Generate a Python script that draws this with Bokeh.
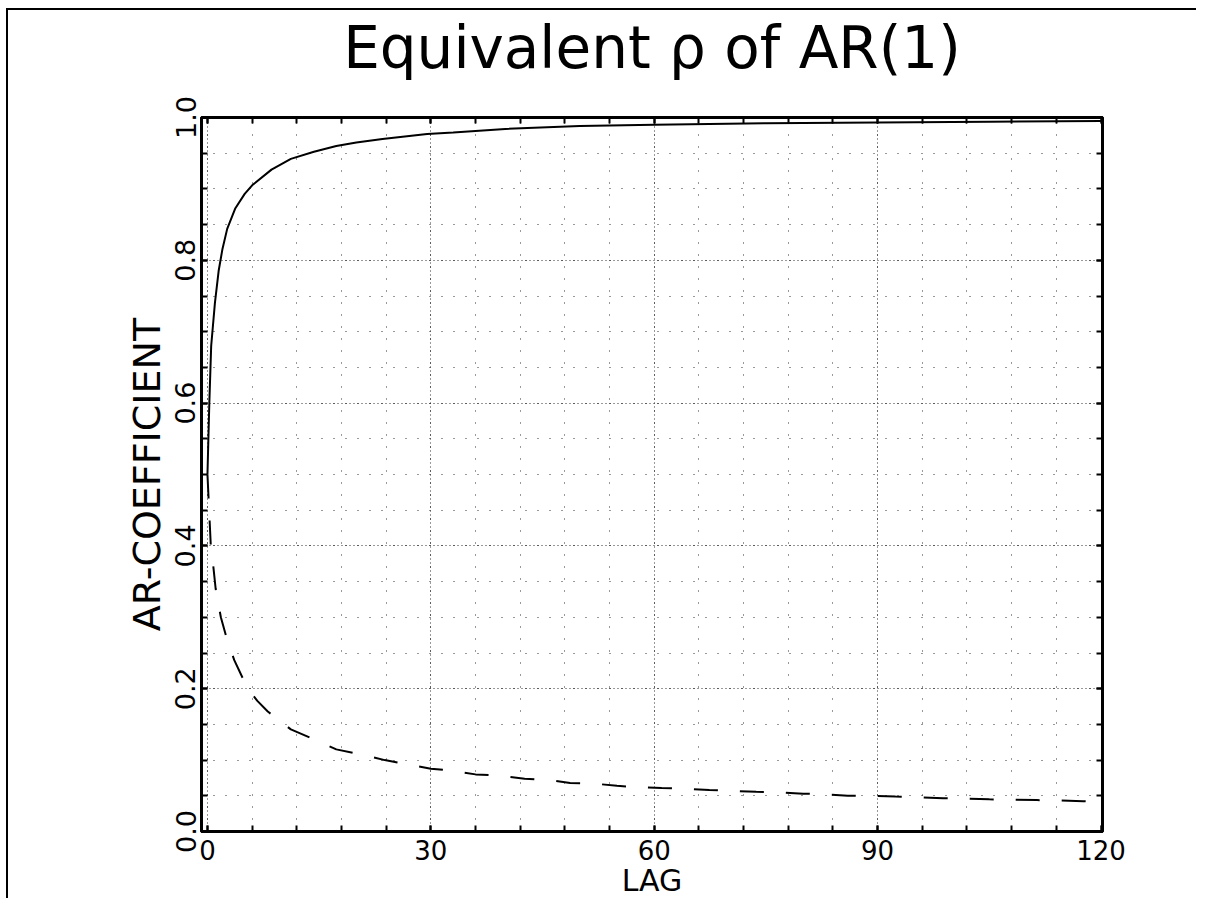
from bokeh.plotting import figure
from bokeh.models import Range1d, FixedTicker, LinearAxis, NumeralTickFormatter
from bokeh.embed import file_html
from bokeh.resources import INLINE

# --- data ---
lag_solid = [0, 0.25, 0.5, 1.0, 1.5, 2.0, 2.65, 3.75, 5.0, 6.0, 8.6, 11.2, 14.3,
             17.3, 20, 23.5, 29.5, 33, 40, 50, 60, 75, 90, 105, 120]
rho_solid = [0.50, 0.60, 0.68, 0.74, 0.785, 0.815, 0.844, 0.873, 0.893, 0.905,
             0.927, 0.942, 0.952, 0.960, 0.965, 0.970, 0.977, 0.979, 0.984,
             0.988, 0.990, 0.992, 0.993, 0.994, 0.995]

lag_dash = [0, 0.45, 0.8, 1.1, 1.8, 2.6, 3.6, 5.4, 6.7, 8.1, 11.2, 14.3, 17.3,
            20.6, 23.8, 26.8, 30, 33, 36, 39.5, 42.6, 45.8, 48.7, 52, 55, 58,
            61, 64.3, 67.4, 70.5, 73.7, 76.7, 80, 83, 86, 89.5, 92.4, 95.7,
            98.8, 102, 105, 108.4, 111.4, 114.5, 117.6, 120]
rho_dash = [0.50, 0.40, 0.37, 0.34, 0.30, 0.27, 0.24, 0.20, 0.183, 0.168, 0.143,
            0.129, 0.115, 0.108, 0.100, 0.094, 0.088, 0.085, 0.080, 0.078,
            0.074, 0.072, 0.068, 0.067, 0.064, 0.062, 0.061, 0.060, 0.058,
            0.057, 0.0555, 0.055, 0.053, 0.052, 0.050, 0.050, 0.049, 0.048,
            0.0465, 0.046, 0.045, 0.0445, 0.044, 0.0435, 0.0425, 0.042]

x_major = [0, 30, 60, 90, 120]
x_minor = list(range(0, 121, 6))
y_major = [0.0, 0.2, 0.4, 0.6, 0.8, 1.0]
y_minor = [round(i * 0.05, 2) for i in range(21)]

TITLE = "Equivalent \u03c1 of AR(1)"
FONT = "DejaVu Sans"

p = figure(width=1190, height=890, output_backend="svg", toolbar_location=None,
           x_range=Range1d(-0.8, 120.2), y_range=Range1d(0, 1),
           min_border_left=193, min_border_right=96, min_border_top=107,
           min_border_bottom=60, x_axis_label="LAG", y_axis_label="AR-COEFFICIENT")
p.styles = {"border-top": "2px solid black", "border-left": "2px solid black",
            "margin-top": "8px", "margin-left": "6px"}

xt = FixedTicker(ticks=x_major, minor_ticks=x_minor)
yt = FixedTicker(ticks=y_major, minor_ticks=y_minor)

bottom = p.below[0]
left = p.left[0]
bottom.ticker = xt
left.ticker = yt
left.formatter = NumeralTickFormatter(format="0.0")
p.xgrid.ticker = xt
p.ygrid.ticker = yt

# top frame axis: ticks only, the chart title sits as its label
top = LinearAxis(ticker=xt, major_label_text_color=None,
                 major_label_text_font_size="0px", axis_label=TITLE)
right = LinearAxis(ticker=yt, major_label_text_color=None,
                   major_label_text_font_size="0px")
p.add_layout(top, "above")
p.add_layout(right, "right")

for ax in (bottom, left, top, right):
    ax.axis_line_width = 3
    ax.axis_line_color = "black"
    ax.major_tick_in = 6
    ax.major_tick_out = 0
    ax.minor_tick_in = 6
    ax.minor_tick_out = 0
    ax.major_tick_line_width = 2
    ax.minor_tick_line_width = 2
    ax.major_tick_line_color = "black"
    ax.minor_tick_line_color = "black"
    ax.major_label_text_font = FONT
    ax.axis_label_text_font = FONT
    ax.axis_label_text_font_style = "normal"
    ax.axis_label_text_color = "black"

top.major_label_standoff = 0
top.axis_label_text_font_size = "58px"
top.axis_label_standoff = 36
right.major_label_standoff = 0

bottom.major_label_text_color = "black"
bottom.major_label_text_font_size = "26px"
bottom.major_label_standoff = 8
bottom.axis_label_text_font_size = "30px"
bottom.axis_label_standoff = 0

left.major_label_text_color = "black"
left.major_label_text_font_size = "27px"
left.major_label_orientation = "vertical"
left.major_label_standoff = 6
left.axis_label_text_font_size = "38px"
left.axis_label_standoff = 4

for g in (p.xgrid, p.ygrid):
    g.grid_line_color = "black"
    g.grid_line_width = 1
    g.grid_line_dash = "1 3"
    g.grid_line_alpha = 0.8
    g.minor_grid_line_color = "black"
    g.minor_grid_line_width = 1
    g.minor_grid_line_dash = "1 11"
    g.minor_grid_line_alpha = 0.8

p.outline_line_color = "black"
p.outline_line_width = 3
p.background_fill_color = "white"
p.border_fill_color = "white"

p.line(lag_solid, rho_solid, line_color="black", line_width=2)
p.line(lag_dash, rho_dash, line_color="black", line_width=2, line_dash="24 22")

open("out.html", "w").write(file_html(p, INLINE))
